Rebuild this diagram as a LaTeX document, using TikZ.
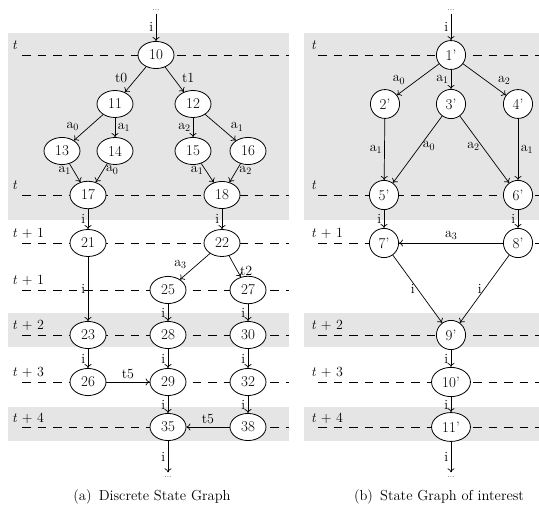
\documentclass[tikz,border=0pt]{standalone}
\usetikzlibrary{shapes.geometric,arrows.meta}
% lowered index for action labels such as a_0
\newcommand\subidx[1]{\raisebox{-0.4ex}{\fontsize{10}{11}\selectfont #1}}
\begin{document}
\begin{tikzpicture}[x=1pt,y=-1pt,
  band/.style={fill=black!10,draw=none},
  level/.style={dash pattern=on 8.5pt off 7pt, line width=0.7pt},
  tlab/.style={anchor=base west, inner sep=0pt, font=\fontsize{14}{16}\selectfont},
  stL/.style={draw, ellipse, fill=white, line width=0.8pt, inner xsep=5pt, inner ysep=4.5pt,
              minimum width=36pt, minimum height=27pt, font=\fontsize{15}{17}\selectfont},
  stR/.style={draw, ellipse, fill=white, line width=0.8pt, inner sep=5pt,
              font=\fontsize{15}{17}\selectfont},
  arr/.style={-{To[length=4pt,width=7pt]}, line width=0.7pt},
  el/.style={font=\fontsize{14}{16}\selectfont, inner sep=2.5pt},
  dotsnode/.style={font=\fontsize{8}{9}\selectfont, inner sep=3pt},
  captext/.style={font=\fontsize{14.5}{17}\selectfont, inner sep=0pt}
]
\useasboundingbox (0,0) rectangle (539,508);

% shaded time bands
\fill[band] (8,33) rectangle (289,220);
\fill[band] (8,313) rectangle (289,347);
\fill[band] (8,407) rectangle (289,441);
\fill[band] (304,33) rectangle (539,220);
\fill[band] (304,313) rectangle (539,347);
\fill[band] (304,407) rectangle (539,441);

% time levels, left graph
\foreach \y/\n [count=\k] in {55/{},195/{},243/{ + 1},290/{ + 1},335/{ + 2},382/{ + 3},427/{ + 4}}{
  \draw[level] (22,\y) -- (289,\y);
  \node[tlab] (lvlL\k) at (12,\y-5) {\textit{t}\n};
}
% time levels, right graph
\foreach \y/\n [count=\k] in {55/{},195/{},243/{ + 1},335/{ + 2},382/{ + 3},427/{ + 4}}{
  \draw[level] (318,\y) -- (539,\y);
  \node[tlab] (lvlR\k) at (311,\y-5) {\textit{t}\n};
}

% discrete state graph
\node[dotsnode] (tL) at (156,10) {...};
\node[stL] (n10) at (156,55) {10};
\node[stL] (n11) at (115,104) {11};
\node[stL] (n12) at (193,104) {12};
\node[stL] (n13) at (62,151) {13};
\node[stL] (n14) at (115,151) {14};
\node[stL] (n15) at (193,151) {15};
\node[stL] (n16) at (248,151) {16};
\node[stL] (n17) at (88,195) {17};
\node[stL] (n18) at (222,195) {18};
\node[stL] (n21) at (88,243) {21};
\node[stL] (n22) at (222,243) {22};
\node[stL] (n25) at (168,290) {25};
\node[stL] (n27) at (248,290) {27};
\node[stL] (n23) at (88,335) {23};
\node[stL] (n28) at (168,335) {28};
\node[stL] (n30) at (248,335) {30};
\node[stL] (n26) at (88,382) {26};
\node[stL] (n29) at (168,382) {29};
\node[stL] (n32) at (248,382) {32};
\node[stL] (n35) at (168,427) {35};
\node[stL] (n38) at (248,427) {38};
\node[dotsnode, inner sep=4pt] (bL) at (168,477) {...};

\draw[arr] (tL) -- node[el,left]{i} (n10);
\draw[arr] (n10) -- node[el,pos=0.75,above left]{t0} (n11);
\draw[arr] (n10) -- node[el,pos=0.75,above right]{t1} (n12);
\draw[arr] (n11) -- node[el,pos=0.75,above left]{a\subidx{0}} (n13);
\draw[arr] (n11) -- node[el,right]{a\subidx{1}} (n14);
\draw[arr] (n12) -- node[el,left]{a\subidx{2}} (n15);
\draw[arr] (n12) -- node[el,pos=0.75,above right]{a\subidx{1}} (n16);
\draw[arr] (n13) -- node[el,pos=0.35,left]{a\subidx{1}} (n17);
\draw[arr] (n14) -- node[el,pos=0.35,right]{a\subidx{0}} (n17);
\draw[arr] (n15) -- node[el,pos=0.35,left]{a\subidx{1}} (n18);
\draw[arr] (n16) -- node[el,pos=0.35,right]{a\subidx{2}} (n18);
\draw[arr] (n17) -- node[el,left]{i} (n21);
\draw[arr] (n18) -- node[el,left]{i} (n22);
\draw[arr] (n22) -- node[el,pos=0.7,above left]{a\subidx{3}} (n25);
\draw[arr] (n22) -- node[el,pos=0.7,right]{t2} (n27);
\draw[arr] (n21) -- node[el,left]{i} (n23);
\draw[arr] (n25) -- node[el,left]{i} (n28);
\draw[arr] (n27) -- node[el,left]{i} (n30);
\draw[arr] (n23) -- node[el,left]{i} (n26);
\draw[arr] (n28) -- node[el,left]{i} (n29);
\draw[arr] (n30) -- node[el,left]{i} (n32);
\draw[arr] (n26) -- node[el,above]{t5} (n29);
\draw[arr] (n29) -- node[el,left]{i} (n35);
\draw[arr] (n32) -- node[el,left]{i} (n38);
\draw[arr] (n38) -- node[el,above]{t5} (n35);
\draw[arr] (n35) -- node[el,left]{i} (bL);

% state graph of interest
\node[dotsnode] (tR) at (451,10) {...};
\node[stR] (p1) at (451,55) {1'};
\node[stR] (p2) at (385,104) {2'};
\node[stR] (p3) at (451,104) {3'};
\node[stR] (p4) at (518,104) {4'};
\node[stR] (p5) at (384,195) {5'};
\node[stR] (p6) at (518,195) {6'};
\node[stR] (p7) at (384,243) {7'};
\node[stR] (p8) at (518,243) {8'};
\node[stR] (p9) at (451,335) {9'};
\node[stR] (p10) at (451,382) {10'};
\node[stR] (p11) at (451,427) {11'};
\node[dotsnode, inner sep=4pt] (bR) at (451,477) {...};

\draw[arr] (tR) -- node[el,left]{i} (p1);
\draw[arr] (p1) -- node[el,pos=0.75,above left]{a\subidx{0}} (p2);
\draw[arr] (p1) -- node[el,left]{a\subidx{1}} (p3);
\draw[arr] (p1) -- node[el,pos=0.75,above right]{a\subidx{2}} (p4);
\draw[arr] (p2) -- node[el,left]{a\subidx{1}} (p5);
\draw[arr] (p3) -- node[el,pos=0.45,right]{a\subidx{0}} (p5);
\draw[arr] (p3) -- node[el,pos=0.45,left]{a\subidx{2}} (p6);
\draw[arr] (p4) -- node[el,right]{a\subidx{1}} (p6);
\draw[arr] (p5) -- node[el,left]{i} (p7);
\draw[arr] (p6) -- node[el,left]{i} (p8);
\draw[arr] (p8) -- node[el,above]{a\subidx{3}} (p7);
\draw[arr] (p7) -- node[el,left]{i} (p9);
\draw[arr] (p8) -- node[el,left]{i} (p9);
\draw[arr] (p9) -- node[el,left]{i} (p10);
\draw[arr] (p10) -- node[el,left]{i} (p11);
\draw[arr] (p11) -- node[el,left]{i} (bR);

% captions
\node[captext] (capA) at (152,497) {(a)\enspace Discrete State Graph};
\node[captext] (capB) at (439,497) {(b)\enspace State Graph of interest};
\end{tikzpicture}
\end{document}
